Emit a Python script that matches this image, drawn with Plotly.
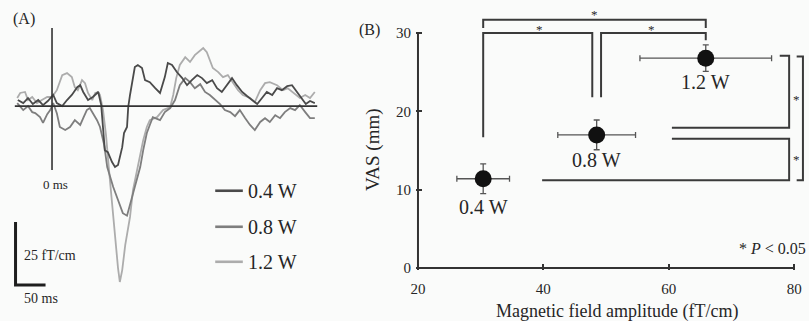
import plotly.graph_objects as go

# ---------------- Panel A: averaged MEG waveforms (time in ms, amplitude in fT/cm)
t_04 = [-57, -48, -40, -32, -23, -15, -7, 2, 8, 17, 25, 33, 42, 47, 52, 60, 68, 77, 82, 85,
        88, 93, 100, 105, 110, 117, 120, 125, 127, 130, 133, 138, 143, 150, 155, 163, 172, 180,
        188, 193, 200, 208, 217, 225, 233, 242, 250, 258, 267, 275, 283, 292, 300, 308, 317,
        325, 333, 342, 350, 358, 367, 375, 383, 392, 400, 408, 417, 423, 430, 438]
a_04 = [2.4, 1.2, 3.2, 0.8, 2.4, 0.4, 2.0, 4.4, 1.2, 0.0, 2.4, 4.4, 7.5, 8.3, 5.6, 2.4, 3.6,
        5.6, 0.4, -7.5, -17.5, -18.3, -22.2, -24.2, -23.4, -16.3, -10.7, -8.3, -0.4, 4.4, 9.1,
        15.5, 16.3, 15.1, 10.3, 9.5, 7.1, 5.2, 11.5, 17.1, 16.3, 13.5, 11.1, 8.3, 10.3, 12.3,
        11.1, 9.1, 10.3, 7.1, 5.6, 8.7, 11.1, 8.3, 5.6, 4.0, 2.4, 0.8, 3.2, 5.6, 4.4, 7.1, 6.3,
        7.9, 8.3, 5.6, 2.4, 0.8, 2.0, 1.2]

t_08 = [-58, -48, -40, -33, -28, -20, -15, -8, -3, 2, 8, 13, 22, 30, 38, 47, 52, 58, 63, 68,
        75, 80, 87, 92, 97, 102, 110, 118, 125, 133, 138, 147, 152, 158, 163, 168, 180, 188,
        197, 205, 213, 222, 230, 238, 247, 255, 263, 272, 280, 288, 297, 305, 313, 322, 330,
        338, 347, 355, 363, 372, 380, 388, 397, 405, 413, 422, 430, 438]
a_08 = [1.2, -1.6, 0.0, -2.4, -2.8, -4.4, -6.7, -3.2, -1.6, 1.2, -2.8, -8.3, -9.5, -8.3, -5.6,
        -7.5, -4.8, -1.6, -0.8, -2.8, -5.6, -8.3, -15.5, -24.2, -28.6, -32.1, -37.3, -42.5,
        -43.5, -36.1, -32.5, -24.2, -17.5, -10.7, -7.5, -4.4, -5.6, -2.4, -0.8, 2.4, 8.3, 11.1,
        9.5, 7.1, 8.7, 5.6, 4.4, 2.4, 0.8, -1.6, -2.4, -4.0, -1.6, -4.8, -7.5, -9.5, -6.3,
        -4.8, -6.3, -3.6, -4.8, -2.4, -0.8, -1.6, 0.4, -2.4, -4.8, -4.8]

t_12 = [-58, -53, -45, -40, -33, -25, -17, -8, 0, 8, 17, 25, 33, 38, 43, 50, 55, 60, 67, 72,
        77, 80, 85, 90, 95, 100, 105, 110, 113, 117, 122, 127, 130, 135, 143, 152, 158, 163,
        175, 185, 197, 202, 207, 213, 222, 230, 238, 247, 252, 258, 263, 268, 277, 285, 293,
        302, 310, 318, 330, 338, 347, 355, 363, 375, 385, 393, 402, 413, 422, 430, 438]
a_12 = [3.2, 5.2, 5.6, 2.4, 3.6, 1.2, 2.4, 3.6, 3.6, 6.3, 12.3, 13.1, 11.5, 7.5, 6.3, 10.3,
        9.1, 5.2, 2.4, 5.2, 5.6, 4.4, -1.6, -11.5, -25.4, -39.3, -53.2, -64.3, -69.8, -65.1,
        -55.2, -48.4, -44.0, -33.3, -24.2, -13.5, -8.3, -5.6, -4.4, -1.6, -0.4, 4.4, 11.1,
        16.3, 19.4, 17.5, 20.2, 22.2, 23.0, 21.4, 18.3, 15.1, 13.5, 11.5, 12.3, 9.1, 6.3, 4.4,
        3.2, 1.6, 6.3, 9.1, 9.5, 8.3, 6.3, 7.1, 5.2, 3.2, 4.4, 3.2, 5.6]

powers = ["0.4 W", "0.8 W", "1.2 W"]
scale_ms = 50       # time scale bar
scale_ft = 25       # amplitude scale bar

# ---------------- Panel B: VAS vs magnetic field amplitude (mean ± SD)
amp = [30.4, 48.5, 65.9]
amp_err = [4.2, 6.2, 10.5]
vas = [11.4, 17.0, 26.8]
vas_err = [1.9, 1.9, 1.7]
x_ticks = [20, 40, 60, 80]
y_ticks = [0, 10, 20, 30]

SERIF = "Liberation Serif"
INK = "#262626"
BG = "#fafbfa"
trace_colors = {"0.4 W": "#4a4a4a", "0.8 W": "#7e7e7e", "1.2 W": "#acacac"}

fig = go.Figure()

# waveforms (light drawn first so darker lines sit on top)
for name, t, a in [("1.2 W", t_12, a_12), ("0.8 W", t_08, a_08), ("0.4 W", t_04, a_04)]:
    fig.add_trace(go.Scatter(x=t, y=a, mode="lines", name=name,
                             line=dict(color=trace_colors[name], width=1.8),
                             xaxis="x", yaxis="y", hoverinfo="skip", showlegend=False))

# scatter with error bars
fig.add_trace(go.Scatter(
    x=amp, y=vas, mode="markers", xaxis="x2", yaxis="y2", showlegend=False,
    marker=dict(size=17, color="#111111"),
    error_x=dict(type="data", array=amp_err, color="#555555", thickness=1.3, width=3),
    error_y=dict(type="data", array=vas_err, color="#555555", thickness=1.3, width=3),
    hoverinfo="skip"))

shapes = []
# panel A: zero axes
shapes.append(dict(type="line", xref="x", yref="y", x0=0, x1=0, y0=31, y1=-25.4,
                   line=dict(color="#333333", width=1.6)))
shapes.append(dict(type="line", xref="x", yref="y", x0=-62, x1=442, y0=0, y1=0,
                   line=dict(color="#333333", width=1.6)))
# panel A: scale bars
sb_t0, sb_a0 = -60.8, -71.0
shapes.append(dict(type="path", xref="x", yref="y",
                   path=f"M {sb_t0},{sb_a0 + scale_ft} L {sb_t0},{sb_a0} L {sb_t0 + scale_ms},{sb_a0}",
                   line=dict(color="#1e1e1e", width=3)))
# panel A: legend lines
leg_a = [-33.6, -47.9, -61.8]
for p, ya in zip(powers, leg_a):
    shapes.append(dict(type="line", xref="x", yref="y", x0=272, x1=318, y0=ya, y1=ya,
                       line=dict(color=trace_colors[p], width=2.6)))

# panel B: axis lines
shapes.append(dict(type="line", xref="x2", yref="y2", x0=x_ticks[0], x1=x_ticks[-1], y0=0, y1=0,
                   line=dict(color="#333333", width=2)))
shapes.append(dict(type="line", xref="x2", yref="y2", x0=x_ticks[0], x1=x_ticks[0], y0=0, y1=y_ticks[-1],
                   line=dict(color="#333333", width=2)))

# panel B: significance brackets
BR = dict(color="#3a3a3a", width=2)
gx = 0.7
def P(pts):
    return "M " + " L ".join(f"{x},{y}" for x, y in pts)
brackets = [
    [(amp[0], 30.65), (amp[0], 31.7), (amp[2], 31.7), (amp[2], 30.65)],
    [(amp[0], 16.7), (amp[0], 30.0), (amp[1] - gx, 30.0), (amp[1] - gx, 21.8)],
    [(amp[1] + gx, 21.8), (amp[1] + gx, 30.0), (amp[2], 30.0), (amp[2], 29.1)],
    [(77.7, vas[2] + 0.3), (79.2, vas[2] + 0.3), (79.2, vas[1] + 0.9), (60.5, vas[1] + 0.9)],
    [(60.5, vas[1] - 0.5), (79.2, vas[1] - 0.5), (79.2, vas[0] - 0.2), (39.8, vas[0] - 0.2)],
    [(80.4, vas[2] + 0.2), (81.4, vas[2] + 0.2), (81.4, vas[0] - 0.2), (80.4, vas[0] - 0.2)],
]
for b in brackets:
    shapes.append(dict(type="path", xref="x2", yref="y2", path=P(b), line=BR))

ann = []
def txt(x, y, s, size, xref="paper", yref="paper", xanchor="center", yanchor="middle",
        color=INK, **kw):
    d = dict(x=x, y=y, xref=xref, yref=yref, text=s, showarrow=False, xanchor=xanchor,
             yanchor=yanchor, font=dict(family=SERIF, size=size, color=color))
    d.update(kw)
    ann.append(d)

W, H = 809, 321
px = lambda v: v / W
py = lambda v: (H - v) / H

# panel A texts
txt(px(24), py(19), "(A)", 16)
txt(px(55), py(184), "0 ms", 13)
txt(px(22), py(255), f"{scale_ft} fT/cm", 14, xanchor="left")
txt(px(22), py(298), f"{scale_ms} ms", 14, xanchor="left")
for p, ya in zip(powers, leg_a):
    txt(323, ya, p, 20, xref="x", yref="y", xanchor="left")

# panel B texts
txt(px(369), py(30), "(B)", 16)
txt(px(373), py(150), "VAS (mm)", 19, textangle=-90)
txt(px(617), py(311), "Magnetic field amplitude (fT/cm)", 18)
txt(px(737), py(248), "* <i>P</i> < 0.05", 16, xanchor="left")
label_shift = [-15, -12, -11]
for p, xa, ya, s in zip(powers, amp, vas, label_shift):
    txt(xa, ya, p, 20, xref="x2", yref="y2", yanchor="top", yshift=s)

# stars
star_pos = [((amp[0] + amp[2]) / 2, 32.7), ((amp[0] + amp[1]) / 2, 30.8),
            ((amp[1] + amp[2]) / 2, 30.8), (80.3, (vas[2] + vas[1]) / 2),
            (80.3, (vas[1] + vas[0]) / 2), (82.5, (vas[2] + vas[0]) / 2)]
for sx, sy in star_pos:
    txt(sx, sy, "*", 13, xref="x2", yref="y2", yshift=-3, color="#2a2a2a")

axfont = dict(family=SERIF, size=15, color=INK)
fig.update_layout(
    width=W, height=H, margin=dict(l=0, r=0, t=0, b=0),
    paper_bgcolor=BG, plot_bgcolor="rgba(0,0,0,0)", showlegend=False,
    xaxis=dict(domain=[0, 330 / W], range=[-86.7, 463.3], visible=False, fixedrange=True),
    yaxis=dict(domain=[0, 1], range=[-85.3, 42.1], visible=False, fixedrange=True),
    xaxis2=dict(domain=[416.1 / W, 806.7 / W], range=[19.7, 82], anchor="y2",
                tickvals=x_ticks, ticks="inside", ticklen=6, tickwidth=1.5, tickcolor="#333333",
                showgrid=False, zeroline=False, showline=False, tickfont=axfont,
                ticklabelstandoff=8, automargin=False),
    yaxis2=dict(domain=[(H - 270.35) / H, (H - 1.78) / H], range=[-0.3, 34], anchor="x2",
                tickvals=y_ticks, ticks="inside", ticklen=6, tickwidth=1.5, tickcolor="#333333",
                showgrid=False, zeroline=False, showline=False, tickfont=axfont,
                ticklabelstandoff=4, automargin=False),
    shapes=shapes, annotations=ann,
)

fig.write_html("out.html")
